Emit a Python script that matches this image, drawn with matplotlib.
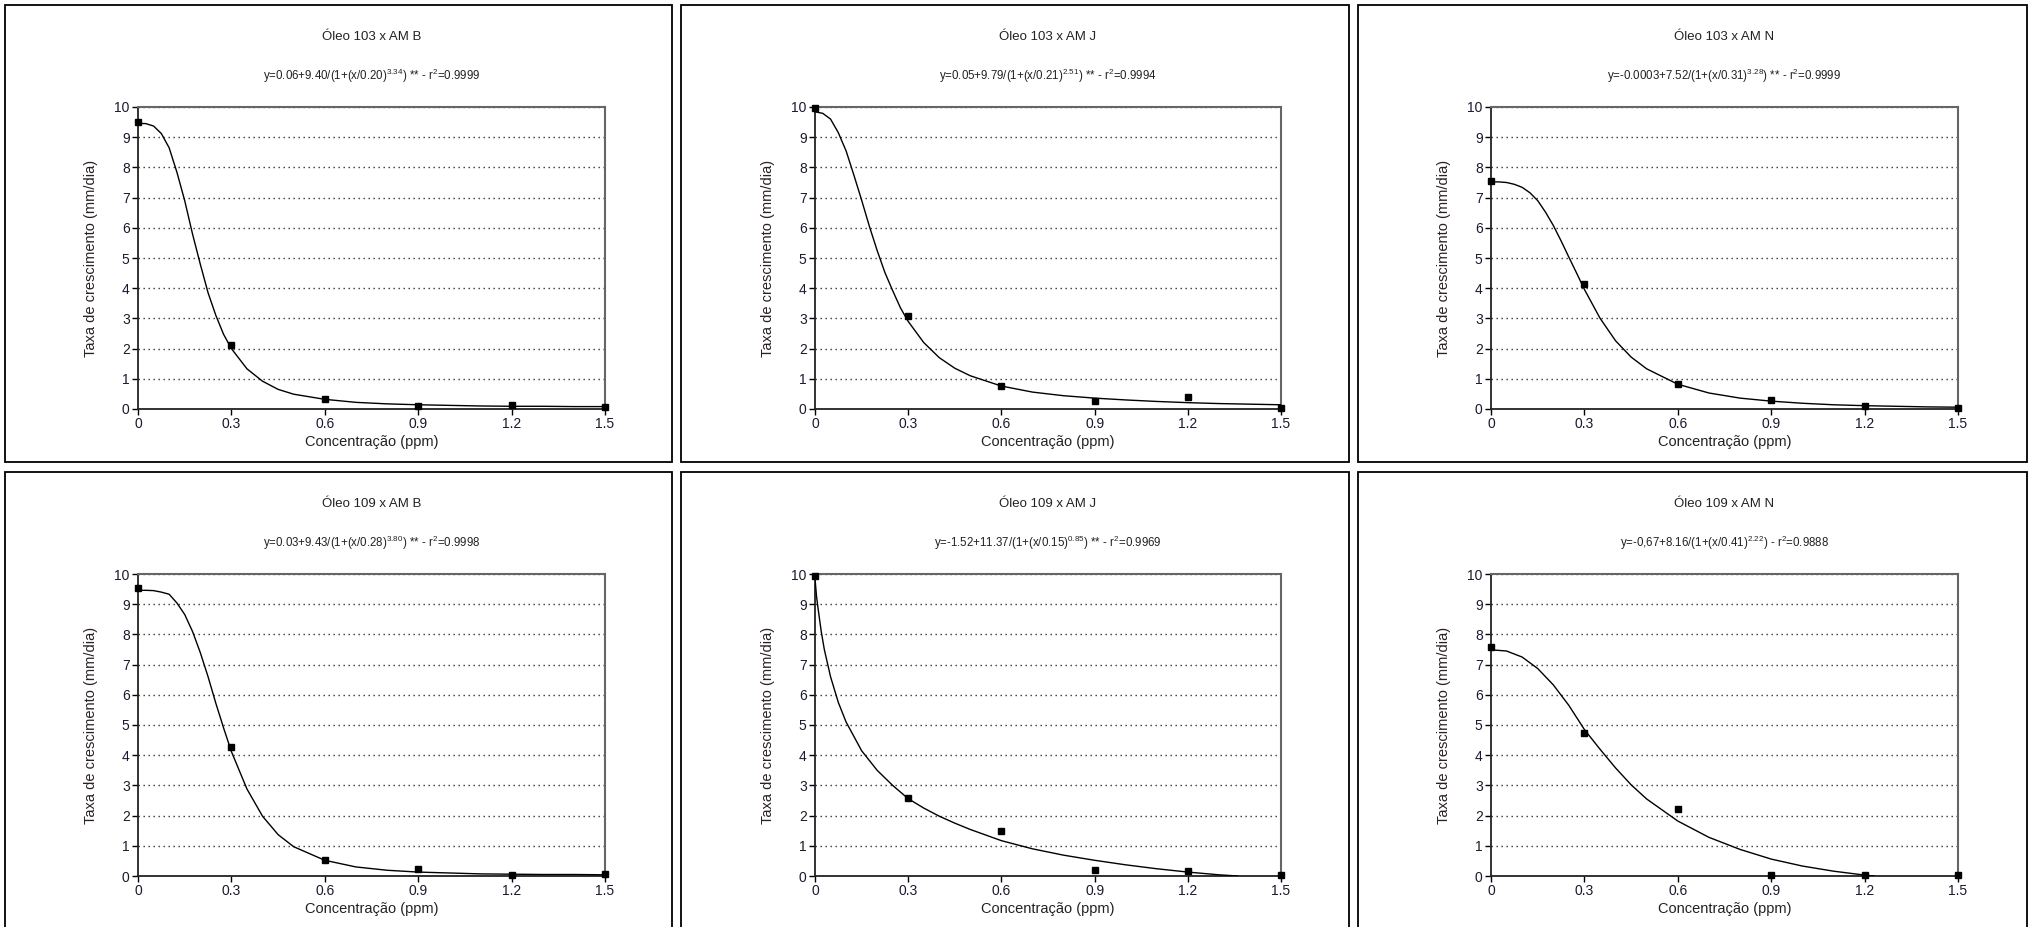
import matplotlib
matplotlib.use("Agg")
import matplotlib.pyplot as plt
from matplotlib.patches import Rectangle

plt.rcParams['font.family'] = ['Liberation Sans', 'DejaVu Sans']
plt.rcParams['mathtext.fontset'] = 'custom'
plt.rcParams['mathtext.rm'] = 'Liberation Sans'

# measured points
conc = [0, 0.3, 0.6, 0.9, 1.2, 1.5]
rate_103_B = [9.50, 2.13, 0.33, 0.09, 0.14, 0.07]
rate_103_J = [9.97, 3.08, 0.75, 0.25, 0.39, 0.03]
rate_103_N = [7.56, 4.14, 0.83, 0.31, 0.10, 0.03]
rate_109_B = [9.53, 4.27, 0.54, 0.22, 0.04, 0.08]
rate_109_J = [9.95, 2.58, 1.49, 0.19, 0.15, 0.04]
rate_109_N = [7.57, 4.73, 2.23, 0.04, 0.04, 0.04]

# fitted curves
fit_x = [0, 0.025, 0.05, 0.075, 0.1, 0.125, 0.15, 0.175, 0.2, 0.225, 0.25, 0.275, 0.3,
         0.35, 0.4, 0.45, 0.5, 0.6, 0.7, 0.8, 0.9, 1.0, 1.1, 1.2, 1.3, 1.4, 1.5]
fit_103_B = [9.46, 9.45, 9.37, 9.12, 8.65, 7.84, 6.9, 5.8, 4.8, 3.85, 3.1, 2.47, 2.0,
             1.33, 0.92, 0.65, 0.49, 0.32, 0.22, 0.17, 0.14, 0.12, 0.1, 0.09, 0.09, 0.08, 0.08]
fit_103_J = [9.84, 9.79, 9.6, 9.15, 8.55, 7.75, 6.92, 6.05, 5.25, 4.52, 3.92, 3.35, 2.9,
             2.2, 1.7, 1.35, 1.1, 0.76, 0.56, 0.44, 0.36, 0.3, 0.25, 0.21, 0.18, 0.16, 0.14]
fit_103_N = [7.52, 7.52, 7.5, 7.44, 7.34, 7.16, 6.9, 6.52, 6.08, 5.57, 5.03, 4.5, 3.96,
             3.01, 2.26, 1.72, 1.33, 0.82, 0.53, 0.36, 0.26, 0.19, 0.14, 0.11, 0.09, 0.07, 0.06]
fit_109_B = [9.46, 9.46, 9.45, 9.4, 9.33, 9.04, 8.66, 8.1, 7.4, 6.6, 5.72, 4.9, 4.12,
             2.88, 1.98, 1.37, 0.97, 0.52, 0.3, 0.19, 0.13, 0.1, 0.07, 0.06, 0.05, 0.05, 0.04]
fit_x_109_J = [0, 0.005, 0.01, 0.02, 0.03, 0.05, 0.075, 0.1, 0.15, 0.2, 0.25, 0.3, 0.35,
               0.4, 0.45, 0.5, 0.6, 0.7, 0.8, 0.9, 1.0, 1.1, 1.2, 1.3, 1.36]
fit_109_J = [9.85, 9.25, 8.85, 8.1, 7.5, 6.6, 5.75, 5.1, 4.15, 3.5, 3.0, 2.56, 2.25,
             1.98, 1.75, 1.54, 1.17, 0.9, 0.69, 0.52, 0.37, 0.24, 0.13, 0.04, 0.0]
fit_x_109_N = [0, 0.05, 0.1, 0.15, 0.2, 0.25, 0.3, 0.35, 0.4, 0.45, 0.5,
               0.6, 0.7, 0.8, 0.9, 1.0, 1.1, 1.2, 1.23]
fit_109_N = [7.49, 7.45, 7.25, 6.87, 6.33, 5.65, 4.85, 4.2, 3.58, 3.02, 2.55,
             1.82, 1.28, 0.88, 0.56, 0.33, 0.16, 0.03, 0.0]

titles = ['Óleo 103 x AM B', 'Óleo 103 x AM J', 'Óleo 103 x AM N',
          'Óleo 109 x AM B', 'Óleo 109 x AM J', 'Óleo 109 x AM N']
equations = [
    r'y=0.06+9.40/(1+(x/0.20)$^{\mathregular{3.34}}$) ** - r$^{\mathregular{2}}$=0.9999',
    r'y=0.05+9.79/(1+(x/0.21)$^{\mathregular{2.51}}$) ** - r$^{\mathregular{2}}$=0.9994',
    r'y=-0.0003+7.52/(1+(x/0.31)$^{\mathregular{3.28}}$) ** - r$^{\mathregular{2}}$=0.9999',
    r'y=0.03+9.43/(1+(x/0.28)$^{\mathregular{3.80}}$) ** - r$^{\mathregular{2}}$=0.9998',
    r'y=-1.52+11.37/(1+(x/0.15)$^{\mathregular{0.85}}$) ** - r$^{\mathregular{2}}$=0.9969',
    r'y=-0,67+8.16/(1+(x/0.41)$^{\mathregular{2.22}}$) - r$^{\mathregular{2}}$=0.9888',
]
rates = [rate_103_B, rate_103_J, rate_103_N, rate_109_B, rate_109_J, rate_109_N]
fits = [(fit_x, fit_103_B), (fit_x, fit_103_J), (fit_x, fit_103_N),
        (fit_x, fit_109_B), (fit_x_109_J, fit_109_J), (fit_x_109_N, fit_109_N)]

W, H = 2035, 927
fig = plt.figure(figsize=(W / 100, H / 100), dpi=100)

box_x = [(5, 672), (681, 1349), (1358, 2027)]
box_y = [(5, 462), (472, 940)]
ax_x = [(138, 605), (815, 1281), (1491, 1958)]
ax_y = [(107, 409), (574, 876)]

for i in range(6):
    r, c = divmod(i, 3)
    bx0, bx1 = box_x[c]
    by0, by1 = box_y[r]
    fig.patches.append(Rectangle((bx0 / W, 1 - by1 / H), (bx1 - bx0) / W, (by1 - by0) / H,
                                 transform=fig.transFigure, fill=False,
                                 edgecolor='black', linewidth=1.3))
    x0, x1 = ax_x[c]
    y0, y1 = ax_y[r]
    ax = fig.add_axes([x0 / W, 1 - y1 / H, (x1 - x0) / W, (y1 - y0) / H])

    ax.plot(fits[i][0], fits[i][1], color='black', linewidth=1.0, zorder=3)
    ax.plot(conc, rates[i], 's', color='black', markersize=4.5, clip_on=False, zorder=4)

    ax.set_xlim(0, 1.5)
    ax.set_ylim(0, 10)
    ax.set_xticks(conc)
    ax.set_xticklabels(['0', '0.3', '0.6', '0.9', '1.2', '1.5'])
    ax.set_yticks(range(11))
    ax.yaxis.grid(True, color='#333333', linestyle=(0, (1, 2.6)), linewidth=1.0)
    ax.set_axisbelow(True)
    ax.tick_params(direction='out', length=4, width=1, labelsize=10,
                   labelcolor='#1a1a2e', pad=2)
    for side in ['left', 'bottom']:
        ax.spines[side].set_color('#222222')
        ax.spines[side].set_linewidth(1.3)
    for side in ['top', 'right']:
        ax.spines[side].set_color('#666666')
        ax.spines[side].set_linewidth(1.5)

    xc = (x0 + x1) / 2 / W
    fig.text(xc, 1 - (37 + r * 467) / H, titles[i], ha='center', va='center',
             fontsize=9.5, color='#222222')
    fig.text(xc, 1 - (76 + r * 467) / H, equations[i], ha='center', va='center',
             fontsize=8.3, color='#222222')
    fig.text(xc, 1 - (442 + r * 467) / H, 'Concentração (ppm)', ha='center', va='center',
             fontsize=10.5, color='#222222')
    fig.text((x0 - 47) / W, 1 - (y0 + y1) / 2 / H, 'Taxa de crescimento (mm/dia)',
             ha='center', va='center', rotation=90, fontsize=10.5, color='#2a2020')

plt.savefig('out.png', dpi=100)
